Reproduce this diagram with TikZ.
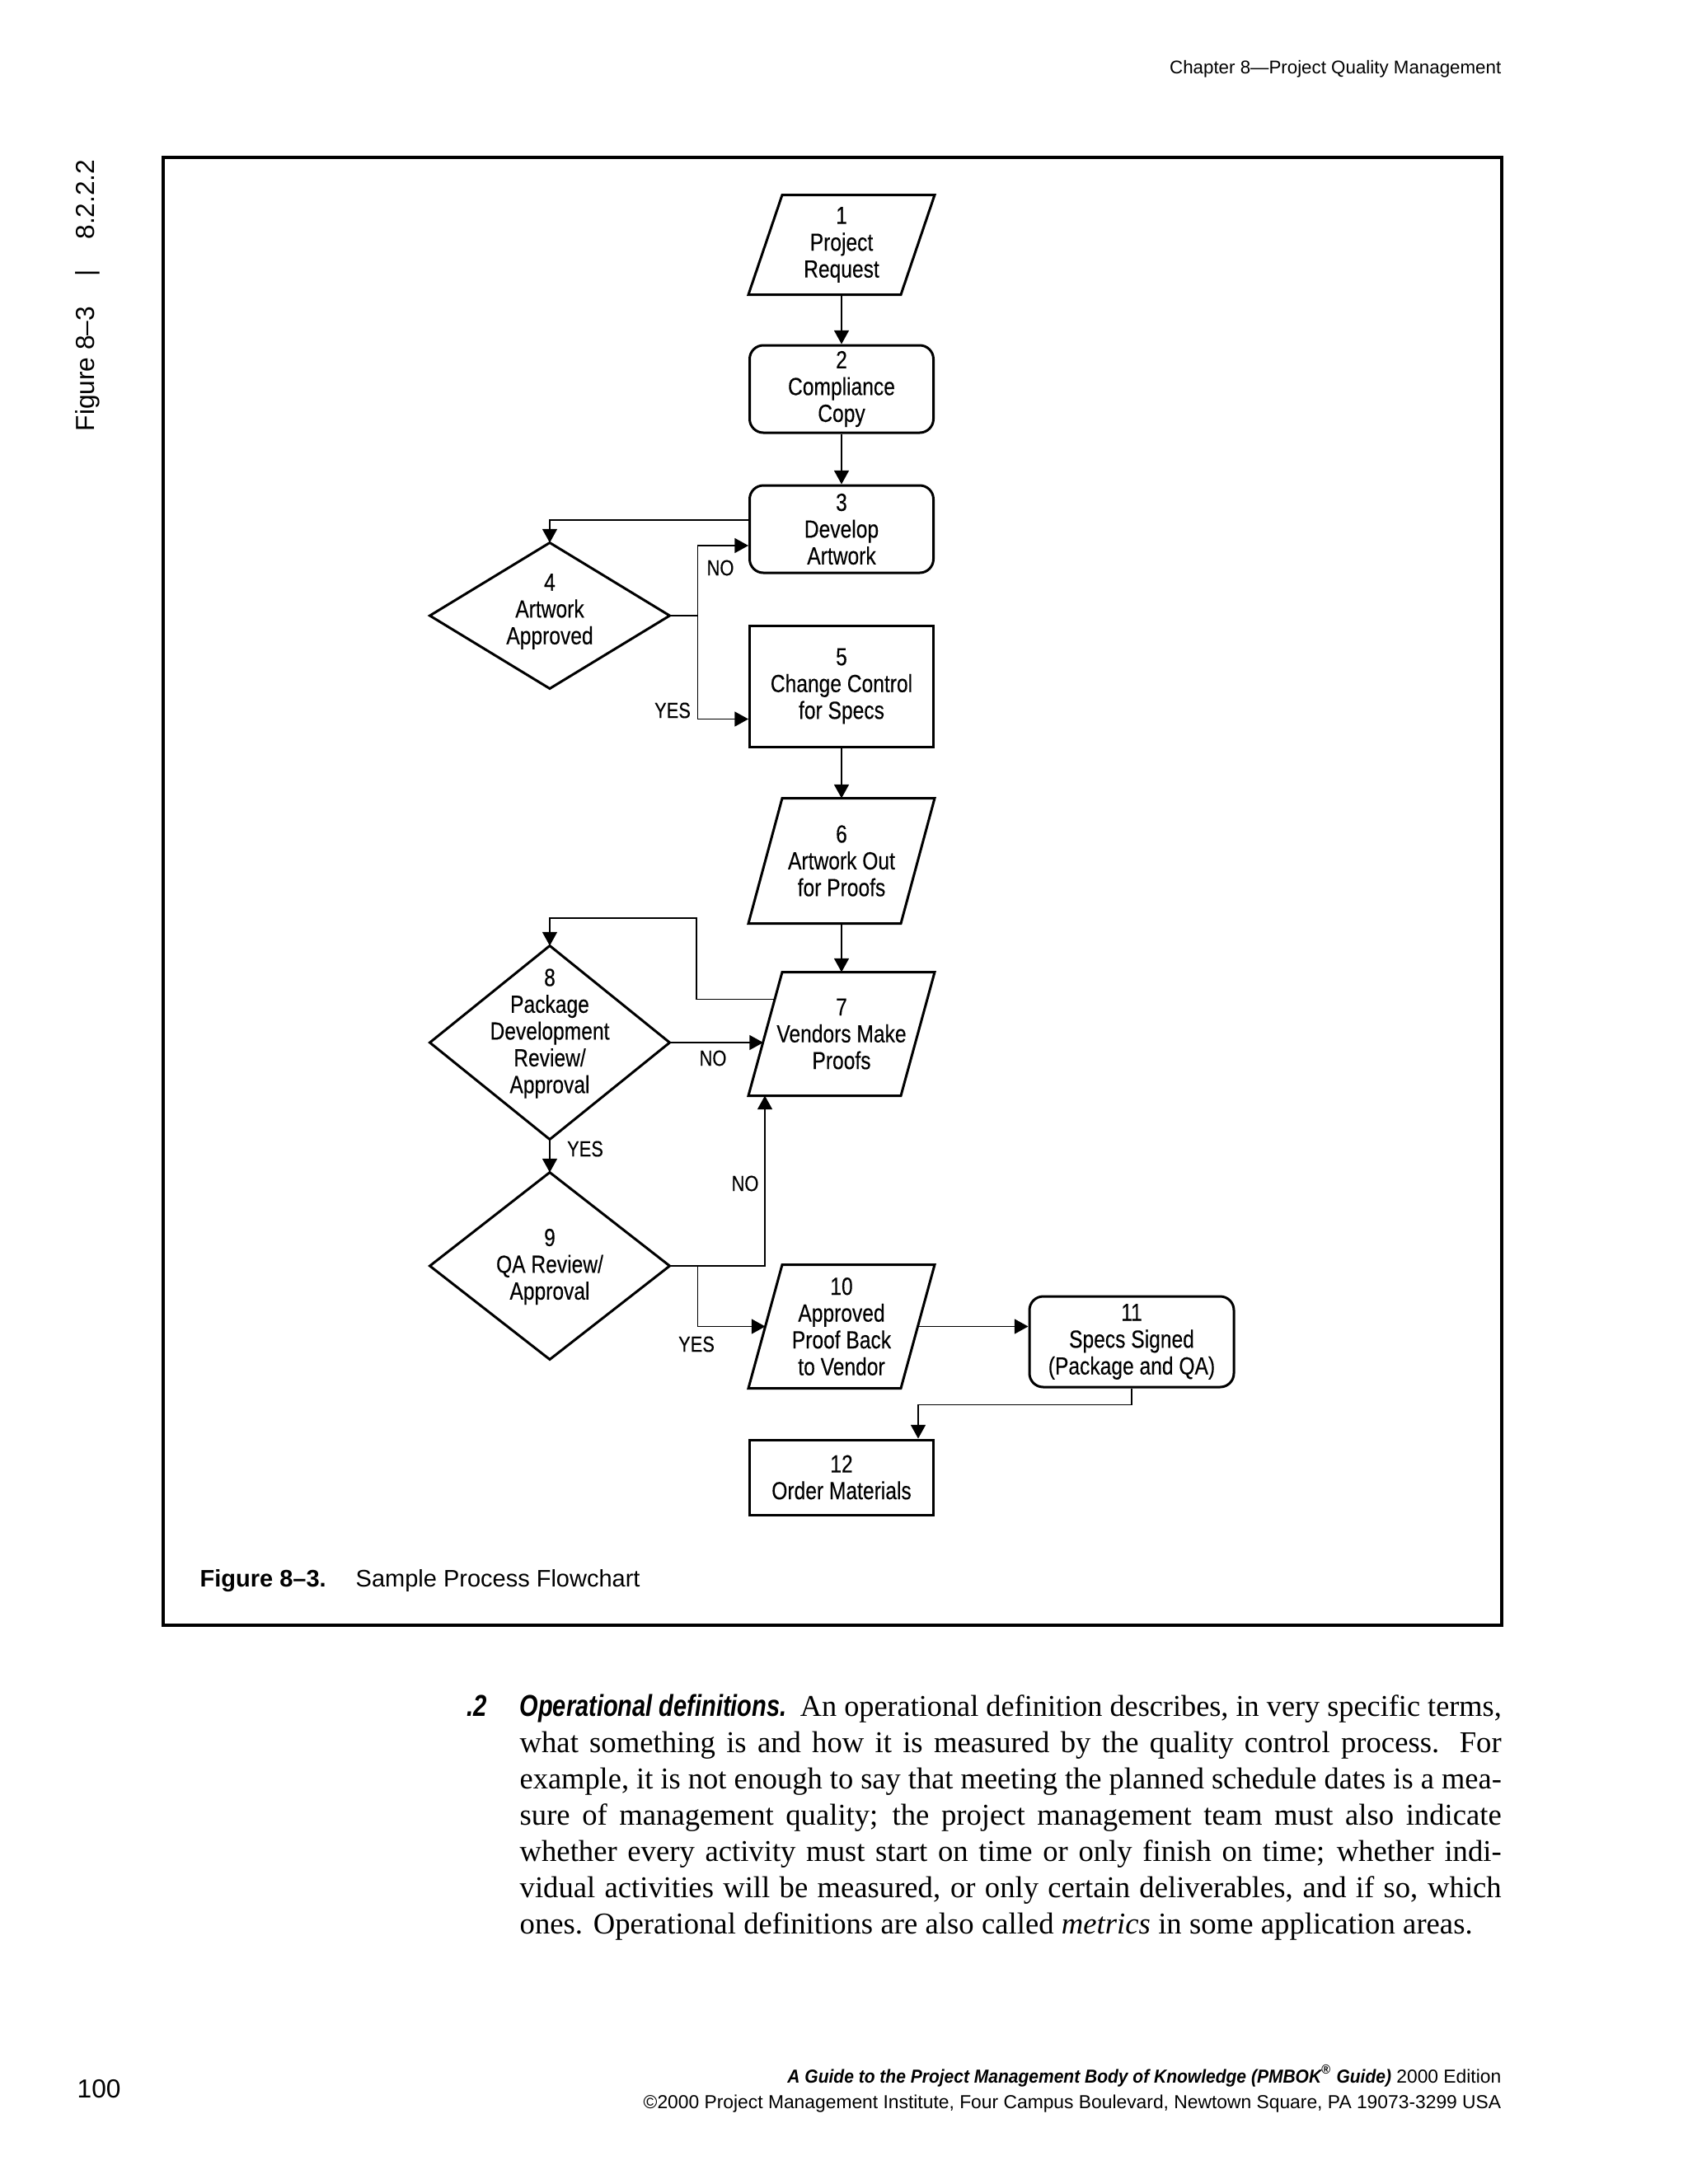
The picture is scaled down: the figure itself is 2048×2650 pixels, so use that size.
\documentclass[tikz,border=0pt]{standalone}
\usepackage{fontspec}
\usepackage{graphicx}
\setmainfont{Liberation Serif}
\newfontfamily\sansf{Liberation Sans}
\newfontfamily\condf[FakeStretch=0.82,FakeBold=0.2]{Liberation Sans}
\newfontfamily\headbi[FakeStretch=0.80]{Liberation Sans}
\newfontfamily\footbi[FakeStretch=0.92]{Liberation Sans}
\usetikzlibrary{arrows.meta,calc}
\newsavebox\jlbox
\newcommand\jlinew[2]{\sbox\jlbox{#2}\ifdim\wd\jlbox>#1\relax\resizebox{#1}{\height}{\usebox\jlbox}\else\hbox to #1{#2}\fi}
\newcommand\jline[1]{\jlinew{357.3pt}{#1}}
\newcommand\paraout[1]{\draw[outline] ($(#1.north west)+(41,0)$) -- (#1.north east) -- ($(#1.south east)-(41,0)$) -- (#1.south west) -- cycle;}
\newcommand\diaout[1]{\draw[outline] (#1.north) -- (#1.east) -- (#1.south) -- (#1.west) -- cycle;}
\begin{document}
\begin{tikzpicture}[x=0.3pt,y=-0.3pt,
  fcbase/.style={inner sep=0pt, align=center, font=\condf\fontsize{9}{9.75}\selectfont, line width=0.9pt},
  rbox/.style={fcbase, draw, rounded corners=5pt, minimum width=66.9pt},
  sqbox/.style={fcbase, draw, minimum width=66.9pt},
  pbox/.style={fcbase, minimum width=66.9pt},
  dbox/.style={fcbase, minimum width=86.4pt},
  fctext/.style={fcbase},
  outline/.style={line width=0.9pt, line join=miter},
  conn/.style={line width=0.45pt, -{Triangle[length=5pt,width=5.4pt]}},
  plain/.style={line width=0.45pt},
  lbl/.style={font=\condf\fontsize{8}{9.6}\selectfont, inner sep=0pt},
  bodyl/.style={anchor=base west, inner sep=0pt, font=\fontsize{11}{13.2}\selectfont}
]
\useasboundingbox (0,0) rectangle (2048,2650);
\fill[white] (0,0) rectangle (2048,2650);

% header and side label
\node[anchor=base east, inner sep=0, font=\sansf\fontsize{6.7}{8}\selectfont] (hdr) at (1822,89) {Chapter 8—Project Quality Management};
\node[rotate=90, anchor=base west, inner sep=0, font=\sansf\fontsize{9.5}{11}\selectfont] (side) at (114,524) {Figure 8–3\hspace{11pt}|\hspace{11pt}8.2.2.2};

% frame
\draw[line width=1.1pt] (198,191) rectangle (1822,1972);

% nodes
\node[pbox, minimum height=35.4pt] (n1) at (1021,297) {1\\Project\\Request};
\paraout{n1}
\node[rbox, minimum height=31.8pt] (n2) at (1021,472) {2\\Compliance\\Copy};
\node[rbox, minimum height=31.8pt] (n3) at (1021,642) {3\\Develop\\Artwork};
\node[dbox, minimum height=52.2pt] (d4) at (667,747) {};
\diaout{d4}
\node[fctext] (d4t) at (667,742) {4\\Artwork\\Approved};
\node[sqbox, minimum height=44.1pt] (n5) at (1021,832.5) {5\\Change Control\\for Specs};
\node[pbox, minimum height=44.7pt] (n6) at (1021,1044.5) {6\\Artwork Out\\for Proofs};
\paraout{n6}
\node[pbox, minimum height=44.1pt] (n7) at (1021,1254.5) {7\\Vendors Make\\Proofs};
\paraout{n7}
\node[dbox, minimum height=69.6pt] (d8) at (667,1265) {};
\diaout{d8}
\node[fctext] (d8t) at (667,1254) {8\\Package\\Development\\Review/\\Approval};
\node[dbox, minimum height=67.2pt] (d9) at (667,1536) {};
\diaout{d9}
\node[fctext] (d9t) at (667,1537) {9\\QA Review/\\Approval};
\node[pbox, minimum height=44.1pt] (n10) at (1021,1609.5) {10\\Approved\\Proof Back\\to Vendor};
\paraout{n10}
\node[rbox, minimum width=74.4pt, minimum height=33pt] (n11) at (1373,1628) {11\\Specs Signed\\(Package and QA)};
\node[sqbox, minimum height=27.3pt] (n12) at (1021,1792.5) {12\\Order Materials};

% helper coordinates
\coordinate (j4) at ($(d4.east)+(34,0)$);
\coordinate (j9) at ($(d9.east)+(34,0)$);
\coordinate (n7fb) at ($(n7.west)+(32,-42)$);
\coordinate (j7) at (845,1114);
\coordinate (n7in) at ($(n7.west |- d8.east)+(18,0)$);
\coordinate (n7bot) at ($(n7.south west)+(20,0)$);
\coordinate (n10in) at ($(n10.west)+(20.5,0)$);
\coordinate (n10out) at ($(n10.east)-(20.5,0)$);
\coordinate (n12in) at ($(n12.north east)-(20,0)$);

% connectors
\draw[conn] (n1.south) -- (n2.north);
\draw[conn] (n2.south) -- (n3.north);
\draw[conn] ([yshift=3.3pt]n3.west) -| (d4.north);
\draw[plain] (d4.east) -- (j4);
\draw[conn] (j4) |- ([yshift=-6pt]n3.west);
\draw[conn] (j4) |- ([yshift=-12pt]n5.west);
\draw[conn] (n5.south) -- (n6.north);
\draw[conn] (n6.south) -- (n7.north);
\draw[conn] (n7fb) -| (j7) -| (d8.north);
\draw[conn] (d8.east) -- (n7in);
\draw[conn] (d8.south) -- (d9.north);
\draw[conn] (d9.east) -| (n7bot);
\draw[conn] (j9) |- (n10in);
\draw[conn] (n10out) -- (n10out -| n11.west);
\draw[conn] (n11.south) -- ++(0,20) -| (n12in);

% labels
\node[lbl] (l1) at (874,689) {NO};
\node[lbl] (l2) at (816,862) {YES};
\node[lbl] (l3) at (865,1284) {NO};
\node[lbl] (l4) at (710,1394) {YES};
\node[lbl] (l5) at (904,1436) {NO};
\node[lbl] (l6) at (845,1631) {YES};

% caption
\node[anchor=base west, inner sep=0, font=\sansf\bfseries\fontsize{8.7}{10}\selectfont] (capa) at (242,1925) {Figure 8–3.};
\node[anchor=base west, inner sep=0, font=\sansf\fontsize{8.7}{10}\selectfont] (capb) at (431,1925) {Sample Process Flowchart};

% body text
\node[anchor=base west, inner sep=0, font=\headbi\bfseries\itshape\fontsize{11}{13.2}\selectfont] (b0) at (566,2082) {.2};
\node[bodyl] (b1) at (630,2082) {\jline{{\headbi\bfseries\itshape Operational definitions.}\hspace{0.45em}An operational definition describes, in very specific terms,}};
\node[bodyl] (b2) at (630,2126) {\jline{what something is and how it is measured by the quality control process. For}};
\node[bodyl] (b3) at (630,2170) {\jline{example, it is not enough to say that meeting the planned schedule dates is a mea-}};
\node[bodyl] (b4) at (630,2214) {\jline{sure of management quality; the project management team must also indicate}};
\node[bodyl] (b5) at (630,2258) {\jline{whether every activity must start on time or only finish on time; whether indi-}};
\node[bodyl] (b6) at (630,2302) {\jline{vidual activities will be measured, or only certain deliverables, and if so, which}};
\node[bodyl] (b7) at (630,2346) {\jlinew{346.8pt}{ones. Operational definitions are also called \textit{metrics} in some application areas.}};

% footer
\node[anchor=base west, inner sep=0, font=\sansf\fontsize{9.5}{11}\selectfont] (pg) at (93,2545) {100};
\node[anchor=base east, inner sep=0, font=\sansf\fontsize{6.85}{8}\selectfont] (ft1) at (1822,2527) {{\footbi\bfseries\itshape A Guide to the Project Management Body of Knowledge (PMBOK\textsuperscript{®} Guide)} 2000 Edition};
\node[anchor=base east, inner sep=0, font=\sansf\fontsize{6.85}{8}\selectfont] (ft2) at (1822,2558) {©2000 Project Management Institute, Four Campus Boulevard, Newtown Square, PA 19073-3299 USA};
\end{tikzpicture}
\end{document}
